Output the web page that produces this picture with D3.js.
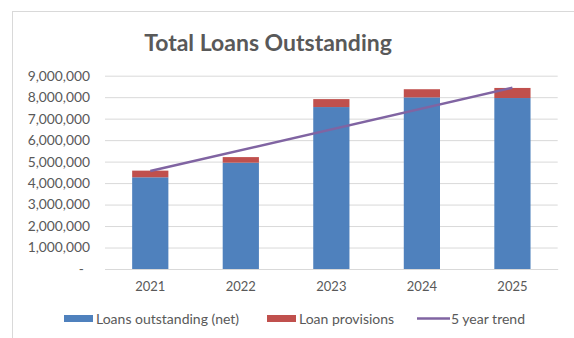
<!DOCTYPE html>
<html>
<head>
<meta charset="utf-8">
<script src="https://cdn.jsdelivr.net/npm/d3@7"></script>
<style>
  body { margin: 0; background: #fff; }
  text { font-family: Lato, "Open Sans", sans-serif; fill: #595959; }
</style>
</head>
<body>
<svg id="vis" width="574" height="338"></svg>
<script>
// values
const years = ["2021", "2022", "2023", "2024", "2025"];
const netLoans = [4270000, 4950000, 7540000, 7990000, 7960000];
const provisions = [310000, 260000, 370000, 380000, 470000];
const trendYears = ["2021", "2025"];
const trendValues = [4560000, 8440000];
const yTicks = [0, 1000000, 2000000, 3000000, 4000000, 5000000, 6000000, 7000000, 8000000, 9000000];

let svg = d3.select("#vis");

// chart frame (cropped on right and bottom)
svg.append("rect")
  .attr("x", 12.5).attr("y", 11.5)
  .attr("width", 600).attr("height", 400)
  .attr("fill", "#fff")
  .attr("stroke", "#d9d9d9");

let x = d3.scaleBand()
  .domain(years)
  .range([105, 557.7])
  .paddingInner(0.6)
  .paddingOuter(0.3);

let y = d3.scaleLinear()
  .domain([0, 9000000])
  .range([269, 75.7]);

svg.append("text")
  .attr("x", 268).attr("y", 51)
  .attr("text-anchor", "middle")
  .style("font-size", "23px")
  .style("font-weight", "bold")
  .text("Total Loans Outstanding");

// gridlines
let grid = svg.append("g")
  .attr("transform", "translate(105,0)")
  .call(d3.axisLeft(y).tickValues(yTicks).tickSize(-452.7).tickFormat(""));
grid.select(".domain").remove();
grid.selectAll("line").attr("stroke", "#d9d9d9");

// y labels
let yAxis = svg.append("g")
  .attr("transform", "translate(90,0)")
  .call(d3.axisLeft(y).tickValues(yTicks).tickSize(0).tickPadding(0)
    .tickFormat(d => d === 0 ? "-" : d3.format(",")(d)));
yAxis.select(".domain").remove();
yAxis.selectAll("text")
  .style("font-family", "Lato, sans-serif")
  .style("font-size", "13.8px")
  .attr("fill", "#595959")
  .attr("dx", d => d === 0 ? -6 : 0);

let stack = d3.stack().keys(["net", "prov"])(
  years.map((yr, i) => ({ year: yr, net: netLoans[i], prov: provisions[i] })));
let colors = ["#4f81bd", "#c0504d"];

svg.append("g").selectAll("g")
  .data(stack)
  .enter()
  .append("g")
  .attr("fill", (d, i) => colors[i])
  .selectAll("rect")
  .data(d => d)
  .enter()
  .append("rect")
  .attr("x", d => x(d.data.year))
  .attr("width", x.bandwidth())
  .attr("y", d => y(d[1]))
  .attr("height", d => y(d[0]) - y(d[1]));

// x axis
let xAxis = svg.append("g")
  .attr("transform", "translate(0,269)")
  .call(d3.axisBottom(x).tickSize(0).tickPadding(0));
xAxis.select(".domain").attr("stroke", "#d9d9d9");
xAxis.selectAll("text")
  .style("font-family", "Lato, sans-serif")
  .style("font-size", "13px")
  .attr("fill", "#595959")
  .attr("y", 13);

// trend
let line = d3.line()
  .x((d, i) => x(trendYears[i]) + x.bandwidth() / 2)
  .y(d => y(d));
svg.append("path")
  .datum(trendValues)
  .attr("d", line)
  .attr("fill", "none")
  .attr("stroke", "#8064a2")
  .attr("stroke-width", 2.5);

// legend
let legend = svg.append("g");
let items = [
  { label: "Loans outstanding (net)", color: colors[0], type: "box", x: 64 },
  { label: "Loan provisions", color: colors[1], type: "box", x: 267 },
  { label: "5 year trend", color: "#8064a2", type: "line", x: 417 }
];
items.forEach(it => {
  if (it.type === "box") {
    legend.append("rect")
      .attr("x", it.x).attr("y", 315)
      .attr("width", 29).attr("height", 7)
      .attr("fill", it.color);
  } else {
    legend.append("line")
      .attr("x1", it.x).attr("x2", it.x + 33)
      .attr("y1", 318.5).attr("y2", 318.5)
      .attr("stroke", it.color)
      .attr("stroke-width", 2.5);
  }
  legend.append("text")
    .attr("x", it.x + (it.type === "box" ? 32 : 34))
    .attr("y", 323.5)
    .style("font-size", "14px")
    .text(it.label);
});
</script>
</body>
</html>
